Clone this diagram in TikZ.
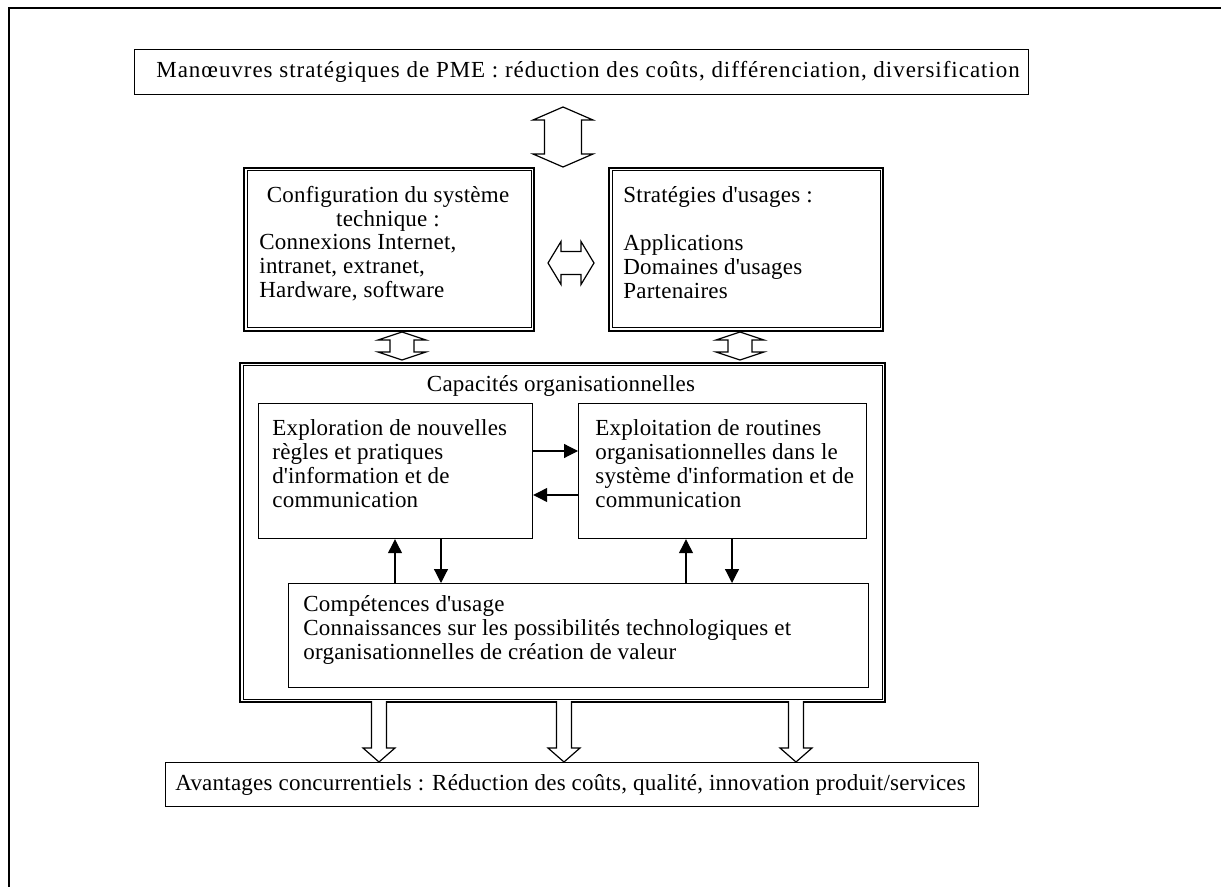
\documentclass[tikz,border=0pt]{standalone}
\usepackage{fontspec}
\setmainfont{Liberation Serif}[LetterSpace=1]
\usetikzlibrary{arrows.meta,calc}
\tikzset{
  x=0.5pt, y=-0.5pt,
  box/.style={draw, line width=0.6pt, rectangle, anchor=north west, inner sep=0pt},
  dbox/.style={draw, line width=1pt, rectangle, anchor=north west, inner sep=0pt},
  innerline/.style={draw, line width=0.5pt},
  txt/.style={inner sep=0pt, align=left, font=\fontsize{11.5pt}{12pt}\selectfont},
  blk/.style={draw, line width=0.6pt, fill=white, line join=miter},
  arr/.style={draw, line width=0.6pt, -{Triangle[length=7pt,width=7pt]}},
  frame/.style={draw, line width=1pt},
}
% vertical double block arrow: x, top tip, bottom tip, head half, shaft half, head length
\newcommand\vdbl[6]{\path[blk] (#1,#2) -- (#1+#4,#2+#6) -- (#1+#5,#2+#6) -- (#1+#5,#3-#6) -- (#1+#4,#3-#6) -- (#1,#3) -- (#1-#4,#3-#6) -- (#1-#5,#3-#6) -- (#1-#5,#2+#6) -- (#1-#4,#2+#6) -- cycle;}
% horizontal double block arrow: y, left tip, right tip, head half, shaft half, head length
\newcommand\hdbl[6]{\path[blk] (#2,#1) -- (#2+#6,#1-#4) -- (#2+#6,#1-#5) -- (#3-#6,#1-#5) -- (#3-#6,#1-#4) -- (#3,#1) -- (#3-#6,#1+#4) -- (#3-#6,#1+#5) -- (#2+#6,#1+#5) -- (#2+#6,#1+#4) -- cycle;}
% single down block arrow: x, top, tip, head half, shaft half, head length
\newcommand\downblk[6]{\path[blk] (#1-#5,#2) -- (#1-#5,#3-#6) -- (#1-#4,#3-#6) -- (#1,#3) -- (#1+#4,#3-#6) -- (#1+#5,#3-#6) -- (#1+#5,#2);}
\begin{document}
\begin{tikzpicture}
\useasboundingbox (0,0) rectangle (1221,887);
% outer frame (cut at right and bottom)
\path[frame] (1221,8) -- (9,8) -- (9,887);

% top box
\node[box, minimum width=447pt, minimum height=22.5pt] (pme) at (134,49) {};
\node[txt, anchor=base west] (pmet) at (156,78) {\addfontfeature{LetterSpace=4.2}Manœuvres stratégiques de PME : réduction des coûts, différenciation, diversification};

% configuration box
\node[dbox, minimum width=145pt, minimum height=81.5pt] (conf) at (243,167) {};
\path[innerline] ([shift={(4,4)}]conf.north west) rectangle ([shift={(-4,-4)}]conf.south east);
\node[txt, align=center, anchor=north] (conft) at (388,186) {Configuration du système\\technique :};
\node[txt, anchor=north west] (confl) at (259,234) {Connexions Internet,\\intranet, extranet,\\Hardware, software};

% strategies box
\node[dbox, minimum width=137pt, minimum height=81.5pt] (strat) at (608,167) {};
\path[innerline] ([shift={(4,4)}]strat.north west) rectangle ([shift={(-4,-4)}]strat.south east);
\node[txt, anchor=north west] (stratt) at (623,186) {Stratégies d\textquotesingle usages :\\\mbox{}\\Applications\\Domaines d\textquotesingle usages\\Partenaires};

% capacites box
\node[dbox, minimum width=322.5pt, minimum height=169.5pt] (cap) at (239,362) {};
\path[innerline] ([shift={(4,4)}]cap.north west) rectangle ([shift={(-4,-4)}]cap.south east);
\node[txt, anchor=north] (capt) at (561,375) {Capacités organisationnelles};

% inner boxes
\node[box, minimum width=137pt, minimum height=67.5pt] (explor) at (258,403) {};
\node[txt, anchor=north west] (explort) at (272,419) {Exploration de nouvelles\\règles et pratiques\\d\textquotesingle information et de\\communication};
\node[box, minimum width=144pt, minimum height=67.5pt] (exploi) at (578,403) {};
\node[txt, anchor=north west] (exploit) at (595,419) {Exploitation de routines\\organisationnelles dans le\\système d\textquotesingle information et de\\communication};
\node[box, minimum width=290pt, minimum height=52pt] (comp) at (288,583) {};
\node[txt, anchor=north west] (compt) at (303,595) {Compétences d\textquotesingle usage\\Connaissances sur les possibilités technologiques et\\organisationnelles de création de valeur};

% bottom box
\node[box, minimum width=406.5pt, minimum height=22pt] (avant) at (165,762) {};
\node[txt, anchor=base west] (avantt) at (175,790) {Avantages concurrentiels : Réduction des coûts, qualité, innovation produit/services};

% block arrows
\vdbl{563}{107}{167}{30}{18.5}{13}
\hdbl{263}{548}{594}{21.5}{11.5}{13}
\vdbl{402}{332}{360}{24}{12}{8}
\vdbl{740}{332}{360}{24}{12}{8}
\downblk{379}{701}{762}{16}{7.5}{14}
\downblk{564}{701}{762}{16}{7.5}{14}
\downblk{796}{701}{762}{16}{7.5}{14}

% line arrows
\path[arr] (explor.east |- 0,451) -- (exploi.west |- 0,451);
\path[arr] (exploi.west |- 0,495) -- (explor.east |- 0,495);
\path[arr] (comp.north -| 395,0) -- (explor.south -| 395,0);
\path[arr] (explor.south -| 441,0) -- (comp.north -| 441,0);
\path[arr] (comp.north -| 686,0) -- (exploi.south -| 686,0);
\path[arr] (exploi.south -| 732,0) -- (comp.north -| 732,0);
\end{tikzpicture}
\end{document}
